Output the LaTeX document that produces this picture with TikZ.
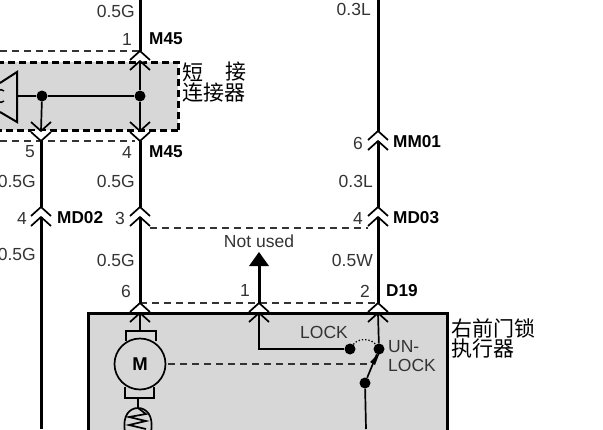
\documentclass[tikz,border=0pt]{standalone}
\usepackage{fontspec}
\setmainfont{Liberation Sans}
\newfontfamily\cjk{Noto Sans CJK SC}
\definecolor{boxgray}{HTML}{D7D7D7}
\definecolor{labelgray}{HTML}{333333}
\tikzset{
    wire/.style={line width=3pt},
    thinwire/.style={line width=1.7pt},
    pinline/.style={line width=1.7pt},
    linkdash/.style={line width=1.3pt, labelgray, dash pattern=on 7pt off 5pt},
    plain/.style={inner sep=0pt, font=\fontsize{17.5}{19}\selectfont, text=labelgray},
    tag/.style={inner sep=0pt, anchor=west, font=\fontsize{17.2}{19}\selectfont\bfseries},
    hanzi/.style={inner sep=0pt, anchor=west, font=\cjk\fontsize{21}{22}\selectfont},
    dot/.style={circle, fill=black, minimum size=11pt, inner sep=0pt}
}
% one pin: two chevrons, the lower one 10 below the upper one
\newcommand{\pinpair}[1]{
    \draw[pinline] (#1) ++(-10,9) -- ++(10,-9) -- ++(10,9);
    \draw[pinline] (#1) ++(-10,19) -- ++(10,-9) -- ++(10,9);
}
\begin{document}
\begin{tikzpicture}[x=1pt, y=-1pt]
    \clip (0,0) rectangle (603,429);

    \fill[boxgray] (-5,62) rectangle (178,130);
    \draw[line width=3pt, dash pattern=on 7pt off 4pt] (178,130) -- (178,62) -- (-5,62);
    \draw[line width=3pt, dash pattern=on 7pt off 4pt] (178,130) -- (-5,130);

    \draw[line width=3pt, fill=boxgray] (88,313) rectangle (447,445);

    % tips of the pins
    \coordinate (top1) at (140,51);
    \coordinate (top4) at (140,131);
    \coordinate (top5) at (41,131);
    \coordinate (md02) at (41,207);
    \coordinate (md02m) at (140,207);
    \coordinate (md03) at (378,207);
    \coordinate (mm01) at (378,131);
    \coordinate (d6) at (140,303);
    \coordinate (d1) at (259,303);
    \coordinate (d2) at (378,303);

    \coordinate (midtop) at (140,0);
    \coordinate (righttop) at (378,0);
    \coordinate (leftend) at (41,429);
    \coordinate (notused) at (259,252);

    % dashed links between pins
    \draw[linkdash] (0,51) -- (top1);
    \draw[linkdash] (0,141) -- (135,141);
    \draw[linkdash] (150,228) -- (368,228);
    \draw[linkdash] (d6) -- (d2);
    \draw[linkdash] (168,364) -- (370,364);

    % main wires
    \draw[wire] (midtop) -- (top1);
    \draw[wire] (top4) ++(0,10) -- (md02m);
    \draw[wire] (md02m) ++(0,10) -- (d6);
    \draw[wire] (righttop) -- (mm01);
    \draw[wire] (mm01) ++(0,10) -- (md03);
    \draw[wire] (md03) ++(0,10) -- (d2);
    \draw[wire] (top5) ++(0,10) -- (md02);
    \draw[wire] (md02) ++(0,10) -- (leftend);
    \draw[wire] (d1) -- (259,265);
    \fill (notused) -- (269,266) -- (249,266) -- cycle;

    % pins
    \fill[white] (31,131) -- (51,131) -- (41,141) -- cycle;
    \fill[white] (130,60) -- (140,51) -- (150,60) -- (140,62) -- cycle;
    \pinpair{top1}
    \draw[pinline] (130,122) -- (140,131) -- (150,122);
    \draw[pinline] (130,132) -- (140,141) -- (150,132);
    \draw[pinline] (31,122) -- (41,131) -- (51,122);
    \draw[pinline] (31,132) -- (41,141) -- (51,132);
    \foreach \pin in {md02, md02m, md03, mm01, d6, d1, d2} {
        \pinpair{\pin}
    }

    % short connector inside
    \node[dot] (jl) at (42,96) {};
    \node[dot] (jr) at (140,96) {};
    \coordinate (horn) at (17,96);
    \draw[line width=1.3pt] (horn) -- (jl);
    \draw[line width=1.3pt] (jl) -- (jr);
    \draw[thinwire] (top1) ++(0,10) -- (jr);
    \draw[thinwire] (jr) -- (top4);
    \draw[thinwire] (jl) -- (top5);
    \draw[line width=2pt] (0,83) -- (17,72) -- (17,122) -- (0,112);
    \draw[line width=1.5pt] (4,91) .. controls (0,88) and (-2,90) .. (-2,96) .. controls (-2,102) and (0,104) .. (4,101);

    % motor
    \node[circle, draw, line width=1.7pt, fill=boxgray, minimum size=51pt, inner sep=0pt,
          font=\fontsize{18.5}{20}\selectfont\bfseries] (motor) at (140,364) {M};
    \draw[thinwire] (d6) ++(0,10) -- (140,331);
    \draw[thinwire] (126,341) -- (126,331) -- (156,331) -- (156,341);
    \draw[thinwire] (125,387) -- (125,398) -- (154,398) -- (154,387);
    \draw[thinwire] (138,398) -- (138,408);
    \draw[thinwire] (125,432) .. controls (122,415) and (130,408) .. (138,408) .. controls (146,408) and (154,415) .. (151,432);
    \draw[thinwire] (138,408) -- (146,414) -- (129,417) -- (146,421) -- (129,425) -- (146,429);

    % lock switch
    \node[dot] (lockdot) at (350,349) {};
    \node[dot] (unlockdot) at (379,349) {};
    \node[dot] (swdot) at (365,383) {};
    \coordinate (lockpin) at (259,313);
    \coordinate (rightpin) at (378,313);
    \coordinate (swend) at (366,429);
    \draw[thinwire] (lockpin) -- (259,349) -- (lockdot);
    \draw[thinwire] (rightpin) -- (unlockdot);
    \draw[thinwire] (swdot) -- (unlockdot);
    \fill (380,352) -- (375,365) -- (370,362) -- cycle;
    \draw[thinwire] (swdot) -- (swend);
    \draw[line width=1.3pt, dotted] (lockdot) .. controls (358,338) and (371,338) .. (unlockdot);

    % gauges and pin numbers
    \node[plain, anchor=east] (g1) at (135,11) {0.5G};
    \node[plain, anchor=east] (g2) at (371,9) {0.3L};
    \node[plain, anchor=east] (g3) at (36,181) {0.5G};
    \node[plain, anchor=east] (g4) at (135,181) {0.5G};
    \node[plain, anchor=east] (g5) at (373,181) {0.3L};
    \node[plain, anchor=east] (g6) at (36,254) {0.5G};
    \node[plain, anchor=east] (g7) at (135,260) {0.5G};
    \node[plain, anchor=east] (g8) at (373,260) {0.5W};
    \node[plain] (n1) at (127,39) {1};
    \node[plain] (n4) at (127,152) {4};
    \node[plain] (n5) at (30,152) {5};
    \node[plain] (n6) at (358,143) {6};
    \node[plain] (n7) at (22,218) {4};
    \node[plain] (n8) at (120,218) {3};
    \node[plain] (n9) at (358,218) {4};
    \node[plain] (n10) at (126,291) {6};
    \node[plain] (n11) at (245,290) {1};
    \node[plain] (n12) at (365,291) {2};

    % connector names
    \node[tag] (m45a) at (149,39) {M45};
    \node[tag] (m45b) at (149,152) {M45};
    \node[tag] (mm01t) at (393,142) {MM01};
    \node[tag] (md02t) at (57,218) {MD02};
    \node[tag] (md03t) at (393,218) {MD03};
    \node[tag] (d19) at (386,291) {D19};

    \node[plain] (nu) at (259,241) {Not used};
    \node[plain] (lock) at (324,332) {LOCK};
    \node[plain, anchor=west] (un) at (388,347) {UN-};
    \node[plain, anchor=west] (unlock) at (388,365) {LOCK};

    \node[hanzi] (short1) at (182,72) {短};
    \node[hanzi] (short2) at (225,72) {接};
    \node[hanzi] (short3) at (182,93) {连接器};
    \node[hanzi] (act1) at (451,328) {右前门锁};
    \node[hanzi] (act2) at (451,349) {执行器};
\end{tikzpicture}
\end{document}
